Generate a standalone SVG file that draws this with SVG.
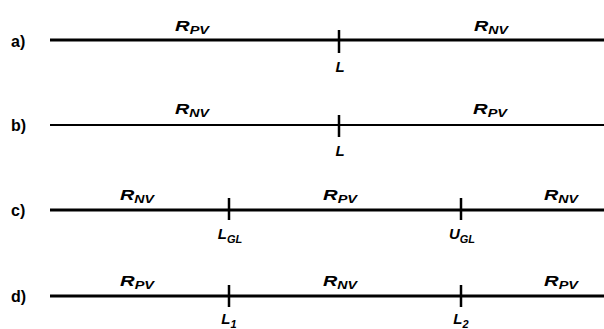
<svg xmlns="http://www.w3.org/2000/svg" width="604" height="329" viewBox="0 0 604 329">
<style>
.ln{stroke:#000;stroke-width:3;fill:none}
.thin{stroke-width:2}
.tk{stroke:#000;stroke-width:2.5}
.lt{font-family:"Liberation Sans",Arial,sans-serif;font-weight:bold;font-size:16px;fill:#000}
.lb{font-family:"Liberation Sans",Arial,sans-serif;font-weight:bold;font-style:italic;font-size:14px;fill:#000;text-anchor:middle}
.ll{font-size:15px}
.sb{font-size:10px}
.sl{font-size:11px}
</style>
<rect width="604" height="329" fill="#fff"/>
<g id="connectors">
<line class="ln" x1="50" y1="40" x2="604" y2="40"/>
<line class="ln thin" x1="50" y1="125" x2="604" y2="125"/>
<line class="ln" x1="50" y1="210" x2="604" y2="210"/>
<line class="ln" x1="50" y1="296" x2="604" y2="296"/>
</g>
<g id="row-a">
<text class="lt" x="11" y="47">a)</text>
<text class="lb" x="192" y="31" textLength="34" lengthAdjust="spacingAndGlyphs">R<tspan class="sb" dy="3">PV</tspan></text>
<text class="lb" x="491" y="31" textLength="34" lengthAdjust="spacingAndGlyphs">R<tspan class="sb" dy="3">NV</tspan></text>
<line class="tk" x1="339" y1="30" x2="339" y2="53"/>
<text class="lb ll" x="340" y="72">L</text>
</g>
<g id="row-b">
<text class="lt" x="11" y="131">b)</text>
<text class="lb" x="192" y="114" textLength="34" lengthAdjust="spacingAndGlyphs">R<tspan class="sb" dy="3">NV</tspan></text>
<text class="lb" x="490" y="114" textLength="34" lengthAdjust="spacingAndGlyphs">R<tspan class="sb" dy="3">PV</tspan></text>
<line class="tk" x1="339" y1="115" x2="339" y2="137"/>
<text class="lb ll" x="340" y="156">L</text>
</g>
<g id="row-c">
<text class="lt" x="11" y="216">c)</text>
<text class="lb" x="137" y="200" textLength="34" lengthAdjust="spacingAndGlyphs">R<tspan class="sb" dy="3">NV</tspan></text>
<text class="lb" x="340" y="200" textLength="34" lengthAdjust="spacingAndGlyphs">R<tspan class="sb" dy="3">PV</tspan></text>
<text class="lb" x="561" y="200" textLength="34" lengthAdjust="spacingAndGlyphs">R<tspan class="sb" dy="3">NV</tspan></text>
<line class="tk" x1="229" y1="198" x2="229" y2="220"/>
<line class="tk" x1="461" y1="198" x2="461" y2="220"/>
<text class="lb ll" x="230" y="239">L<tspan class="sl" dy="4">GL</tspan></text>
<text class="lb ll" x="462" y="239">U<tspan class="sl" dy="4">GL</tspan></text>
</g>
<g id="row-d">
<text class="lt" x="11" y="302">d)</text>
<text class="lb" x="137" y="286" textLength="34" lengthAdjust="spacingAndGlyphs">R<tspan class="sb" dy="3">PV</tspan></text>
<text class="lb" x="340" y="286" textLength="34" lengthAdjust="spacingAndGlyphs">R<tspan class="sb" dy="3">NV</tspan></text>
<text class="lb" x="561" y="286" textLength="34" lengthAdjust="spacingAndGlyphs">R<tspan class="sb" dy="3">PV</tspan></text>
<line class="tk" x1="229" y1="285" x2="229" y2="307"/>
<line class="tk" x1="461" y1="285" x2="461" y2="307"/>
<text class="lb ll" x="229" y="324">L<tspan class="sl" dy="4">1</tspan></text>
<text class="lb ll" x="461" y="324">L<tspan class="sl" dy="4">2</tspan></text>
</g>
</svg>
